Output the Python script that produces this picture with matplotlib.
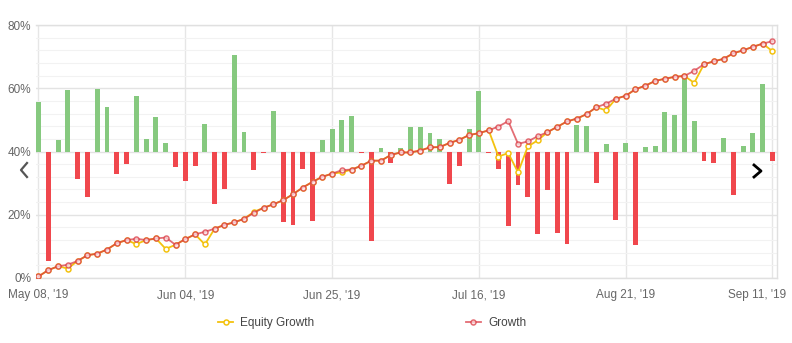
import matplotlib
matplotlib.use("Agg")
import matplotlib.pyplot as plt
import matplotlib.transforms as mtransforms
from matplotlib.lines import Line2D
from matplotlib.patches import Circle
import numpy as np

# Daily result bars, drawn from the 40% baseline (value = bar end on the % axis)
bar_values = [
    55.5, 5.4, 43.5, 59.4, 31.2, 25.5, 59.7, 54.0, 32.8, 36.0,
    57.7, 43.9, 50.8, 42.8, 35.2, 30.6, 35.5, 48.6, 23.3, 28.0,
    70.4, 46.3, 34.1, 39.5, 52.7, 17.7, 16.7, 34.4, 18.0, 43.5,
    47.1, 50.1, 51.3, 39.5, 11.7, 41.0, 36.5, 41.0, 47.7, 47.7,
    45.7, 43.9, 29.6, 35.5, 47.1, 59.0, 39.5, 34.6, 16.6, 29.3,
    25.5, 14.0, 27.7, 14.2, 10.7, 48.5, 48.1, 29.9, 42.5, 18.3,
    42.8, 10.4, 41.3, 41.6, 52.4, 51.4, 63.6, 49.5, 36.9, 36.3,
    44.4, 26.2, 41.6, 46.0, 61.5, 36.9,
]
bar_baseline = 40.0

growth = [
    0.5, 2.5, 3.7, 4.2, 5.4, 7.2, 7.7, 9.0, 11.0, 12.0,
    12.4, 12.0, 12.5, 12.8, 10.5, 12.3, 13.8, 14.6, 15.6, 16.8,
    17.6, 18.7, 20.6, 22.2, 23.3, 24.6, 26.5, 28.6, 30.4, 32.0,
    33.0, 34.1, 34.3, 35.5, 37.1, 37.1, 38.9, 39.7, 39.7, 40.3,
    41.3, 41.4, 42.7, 43.7, 45.2, 45.8, 46.7, 47.9, 49.6, 42.4,
    43.2, 44.8, 46.1, 47.8, 49.5, 50.4, 51.8, 54.0, 55.1, 56.7,
    57.6, 59.7, 60.8, 62.3, 63.0, 63.6, 63.9, 65.5, 67.6, 68.5,
    69.3, 71.1, 72.0, 73.1, 74.1, 74.9,
]

equity_growth = [
    0.5, 2.5, 3.7, 3.0, 5.4, 7.2, 7.7, 9.0, 11.0, 12.0,
    10.7, 12.0, 12.5, 9.2, 10.5, 12.3, 13.8, 10.6, 15.6, 16.8,
    17.6, 18.7, 20.9, 22.2, 23.3, 24.6, 26.5, 28.6, 30.4, 32.0,
    33.0, 33.4, 34.3, 35.5, 37.1, 37.1, 38.9, 39.7, 39.7, 40.3,
    41.3, 41.4, 42.7, 43.7, 45.2, 45.8, 46.7, 38.4, 39.5, 33.4,
    41.6, 43.5, 46.1, 47.8, 49.5, 50.4, 51.8, 54.0, 53.0, 56.7,
    57.6, 59.7, 60.8, 62.3, 63.0, 63.6, 63.9, 61.7, 67.6, 68.5,
    69.3, 71.0, 72.0, 73.1, 74.1, 71.7,
]

tick_positions = [0, 15, 30, 45, 60, 75]
tick_labels = ["May 08, '19", "Jun 04, '19", "Jun 25, '19",
               "Jul 16, '19", "Aug 21, '19", "Sep 11, '19"]
y_ticks = [0, 20, 40, 60, 80]

GREEN = "#86c97f"
RED_BAR = "#f0474d"
YELLOW = "#f3c20f"
RED_LINE = "#d93640"
TEXT = "#666666"

plt.rcParams["font.family"] = ["Liberation Sans", "DejaVu Sans"]

W, H = 792, 343
fig = plt.figure(figsize=(W / 100, H / 100), dpi=100)
ax_left, ax_right, ax_top, ax_bottom = 35.6, 777, 25, 278
ax = fig.add_axes([ax_left / W, 1 - ax_bottom / H,
                   (ax_right - ax_left) / W, (ax_bottom - ax_top) / H])

x = np.arange(len(growth))
vals = np.array(bar_values)
heights = vals - bar_baseline
colors = [GREEN if h >= 0 else RED_BAR for h in heights]
ax.bar(x, heights, bottom=bar_baseline, width=0.5, color=colors,
       linewidth=0, zorder=2)

eq_line, = ax.plot(x, equity_growth, color=YELLOW, lw=1.3, marker="o",
                   markersize=3.6, markerfacecolor="white",
                   markeredgecolor=YELLOW, markeredgewidth=1.1, zorder=3,
                   label="Equity Growth")
gr_line, = ax.plot(x, growth, color=RED_LINE, lw=1.3, marker="o",
                   markersize=3.6, markerfacecolor="#fbe3e4",
                   markeredgecolor=RED_LINE, markeredgewidth=1.1,
                   alpha=0.72, zorder=4, label="Growth")

ax.set_xlim(-0.296, 75.46)
ax.set_ylim(0, 80)

ax.set_yticks(y_ticks)
ax.set_yticklabels([f"{v}%" for v in y_ticks])
ax.set_yticks(np.arange(4, 80, 4), minor=True)
ax.set_xticks(tick_positions)
ax.set_xticklabels(tick_labels)

ax.grid(axis="y", which="major", color="#e3e3e3", lw=1.0, zorder=0)
ax.grid(axis="y", which="minor", color="#f2f2f2", lw=0.8, zorder=0)
ax.grid(axis="x", which="major", color="#e6e6e6", lw=1.0, zorder=0)
ax.set_axisbelow(True)

ax.tick_params(axis="both", which="both", length=0)
ax.tick_params(axis="y", labelsize=8.5, labelcolor=TEXT, pad=3)
ax.tick_params(axis="x", labelsize=8.5, labelcolor=TEXT, pad=8)

# keep the last date label inside the figure edge
last = ax.get_xticklabels()[-1]
last.set_horizontalalignment("right")
last.set_transform(last.get_transform() +
                   mtransforms.ScaledTranslation(13.5 / 100, 0, fig.dpi_scale_trans))

for side in ("top", "right", "bottom"):
    ax.spines[side].set_color("#e0e0e0")
    ax.spines[side].set_linewidth(1.0)
ax.spines["left"].set_visible(False)

leg = fig.legend(handles=[eq_line, gr_line], loc="center",
                 bbox_to_anchor=(372 / W, 1 - 323 / H), ncol=2, frameon=False,
                 fontsize=8.5, handlelength=1.3, handletextpad=0.6,
                 columnspacing=12.8, labelcolor="#444444")

# navigation chevrons
fig.add_artist(Line2D([27 / W, 21 / W, 27 / W],
                      [1 - 163 / H, 1 - 170 / H, 1 - 177 / H],
                      color="#555555", lw=1.6))
fig.add_artist(Circle((757 / W, 1 - 171 / H), 14 / W, transform=fig.transFigure,
                      facecolor="white", edgecolor="none", zorder=5))
fig.add_artist(Line2D([754 / W, 761 / W, 754 / W],
                      [1 - 165 / H, 1 - 171 / H, 1 - 177 / H],
                      color="black", lw=2.0, zorder=6))

fig.savefig("out.png", dpi=100)
